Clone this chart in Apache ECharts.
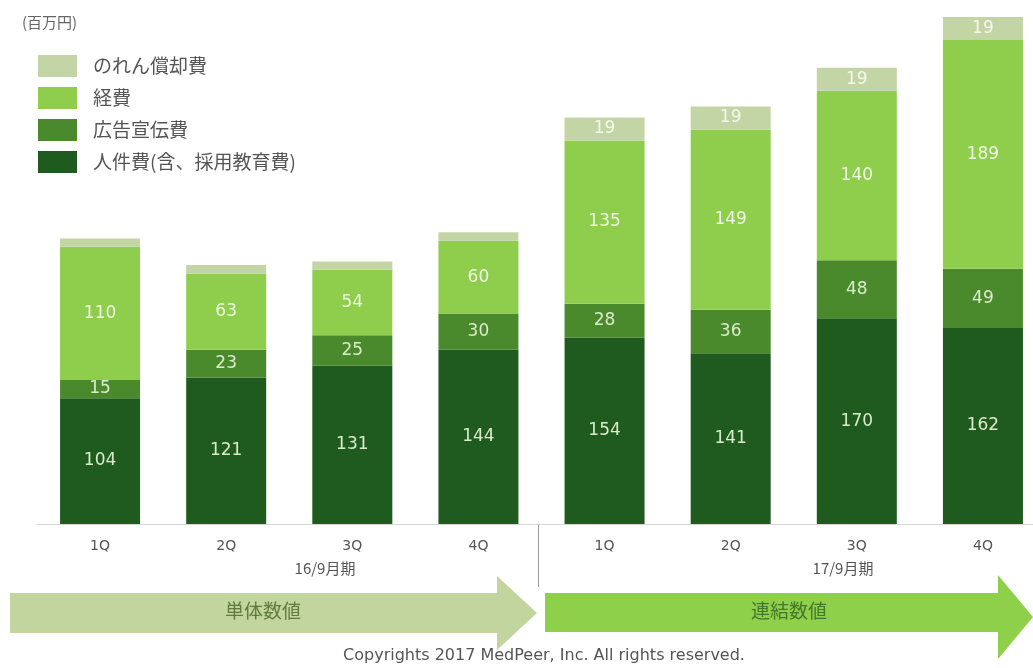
<!DOCTYPE html>
<html>
<head>
<meta charset="utf-8">
<script src="https://cdn.jsdelivr.net/npm/echarts@6/dist/echarts.min.js"></script>
<style>
  html, body { margin: 0; padding: 0; background: #fff; }
  #chart { width: 1033px; height: 668px; }
</style>
</head>
<body>
<div id="chart"></div>
<script>
// Quarterly SG&A breakdown (million yen): FY16/9 standalone, FY17/9 consolidated
const quarters = ['1Q', '2Q', '3Q', '4Q', '1Q', '2Q', '3Q', '4Q'];
const seriesNames = ['のれん償却費', '経費', '広告宣伝費', '人件費(含、採用教育費)'];
const personnel = [104, 121, 131, 144, 154, 141, 170, 162];
const advertising = [15, 23, 25, 30, 28, 36, 48, 49];
const expenses = [110, 63, 54, 60, 135, 149, 140, 189];
const goodwill = [7, 7, 7, 7, 19, 19, 19, 19];
// goodwill amounts printed on the bars (standalone quarters left unlabeled)
const goodwillLabelled = [false, false, false, false, true, true, true, true];
const periodLabels = ['16/9月期', '17/9月期'];
const bandLabels = ['単体数値', '連結数値'];
const unitLabel = '(百万円)';
const footer = 'Copyrights 2017 MedPeer, Inc. All rights reserved.';

const colors = {
  goodwill: '#c3d5a4',
  expenses: '#8ece4c',
  advertising: '#4b8a2c',
  personnel: '#1f5b1e'
};

const font = '"DejaVu Sans", Verdana, sans-serif';
const cjk = '"Noto Sans CJK JP", "Noto Sans", sans-serif';

function barLabel(color) {
  return {
    show: true,
    position: 'inside',
    color: color,
    fontFamily: font,
    fontSize: 17
  };
}

const chart = echarts.init(document.getElementById('chart'), null, { renderer: 'canvas' });

chart.setOption({
  animation: false,
  backgroundColor: '#ffffff',
  grid: { left: 37, width: 1009, top: 0, height: 524, containLabel: false, outerBoundsMode: 'none' },
  legend: {
    data: seriesNames,
    orient: 'vertical',
    left: 33,
    top: 50,
    itemWidth: 39,
    itemHeight: 22,
    itemGap: 10,
    icon: 'rect',
    selectedMode: false,
    textStyle: { fontFamily: cjk, fontSize: 19, color: '#555', padding: [0, 0, 0, 11] }
  },
  xAxis: {
    type: 'category',
    data: quarters,
    axisLine: { show: true, lineStyle: { color: '#d6d6d6', width: 1 } },
    axisTick: { show: false },
    axisLabel: { color: '#555', fontFamily: font, fontSize: 14, margin: 15 }
  },
  yAxis: {
    type: 'value',
    min: 0,
    max: 433,
    show: false,
    splitLine: { show: false }
  },
  series: [
    {
      name: seriesNames[3], type: 'bar', stack: 'sga', barWidth: 80,
      itemStyle: { color: colors.personnel },
      label: barLabel('#d9ebcb'),
      data: personnel
    },
    {
      name: seriesNames[2], type: 'bar', stack: 'sga', barWidth: 80,
      itemStyle: { color: colors.advertising },
      label: barLabel('#d9ebcb'),
      data: advertising
    },
    {
      name: seriesNames[1], type: 'bar', stack: 'sga', barWidth: 80,
      itemStyle: { color: colors.expenses },
      label: barLabel('#eef7e2'),
      data: expenses
    },
    {
      name: seriesNames[0], type: 'bar', stack: 'sga', barWidth: 80,
      itemStyle: { color: colors.goodwill },
      label: barLabel('#f4f7ee'),
      data: goodwill.map((v, i) => ({ value: v, label: { show: goodwillLabelled[i] } }))
    }
  ],
  graphic: [
    {
      type: 'text', x: 22, y: 22,
      style: { text: unitLabel, font: '15px ' + cjk, fill: '#666', verticalAlign: 'middle' }
    },
    {
      type: 'line',
      shape: { x1: 538.5, y1: 525, x2: 538.5, y2: 587 },
      style: { stroke: '#9a9a9a', lineWidth: 1 }
    },
    {
      type: 'text', x: 325, y: 568,
      style: { text: periodLabels[0], font: '15px ' + cjk, fill: '#555', align: 'center', verticalAlign: 'middle' }
    },
    {
      type: 'text', x: 843, y: 568,
      style: { text: periodLabels[1], font: '15px ' + cjk, fill: '#555', align: 'center', verticalAlign: 'middle' }
    },
    {
      type: 'polygon',
      shape: { points: [[10, 593], [497, 593], [497, 576], [537, 613], [497, 650], [497, 633], [10, 633]] },
      style: { fill: '#c3d59e' }
    },
    {
      type: 'polygon',
      shape: { points: [[545, 593], [998, 593], [998, 575], [1033, 617], [998, 659], [998, 632], [545, 632]] },
      style: { fill: '#8ed04a' }
    },
    {
      type: 'text', x: 263, y: 611,
      style: { text: bandLabels[0], font: '19px ' + cjk, fill: '#5d7c3c', align: 'center', verticalAlign: 'middle' }
    },
    {
      type: 'text', x: 789, y: 611,
      style: { text: bandLabels[1], font: '19px ' + cjk, fill: '#44772a', align: 'center', verticalAlign: 'middle' }
    },
    {
      type: 'text', x: 544, y: 656,
      style: { text: footer, font: '16px ' + font, fill: '#555', align: 'center', verticalAlign: 'middle' }
    }
  ]
});
</script>
</body>
</html>
